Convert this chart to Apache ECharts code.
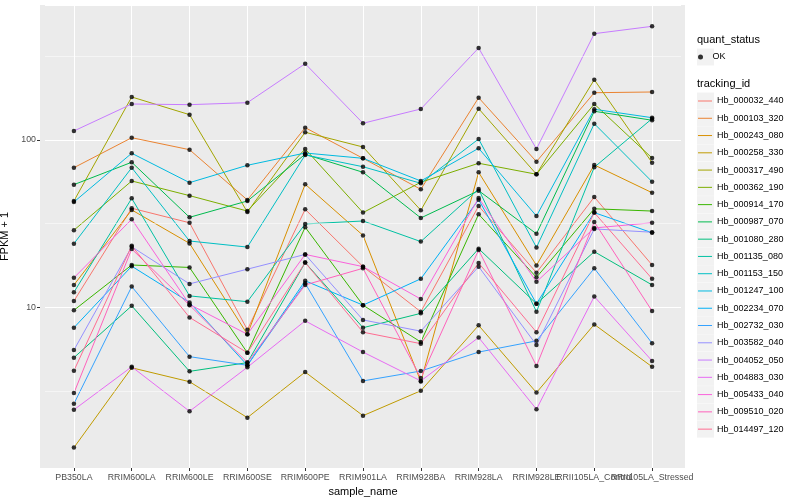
<!DOCTYPE html>
<html><head><meta charset="utf-8">
<script src="https://cdn.jsdelivr.net/npm/echarts@6/dist/echarts.min.js"></script>
<style>html,body{margin:0;padding:0;background:#fff}#c{width:800px;height:500px}</style>
</head><body><div id="c"></div>
<script>
const categories = ['PB350LA','RRIM600LA','RRIM600LE','RRIM600SE','RRIM600PE','RRIM901LA','RRIM928BA','RRIM928LA','RRIM928LE','RRII105LA_Control','RRII105LA_Stressed'];
const trackingIds = ['Hb_000032_440','Hb_000103_320','Hb_000243_080','Hb_000258_330','Hb_000317_490','Hb_000362_190','Hb_000914_170','Hb_000987_070','Hb_001080_280','Hb_001135_080','Hb_001153_150','Hb_001247_100','Hb_002234_070','Hb_002732_030','Hb_003582_040','Hb_004052_050','Hb_004883_030','Hb_005433_040','Hb_009510_020','Hb_014497_120'];
const colors = ['#F8766D','#EA8331','#D89000','#C09B00','#A3A500','#7CAE00','#39B600','#00BB4E','#00BF7D','#00C1A3','#00BFC4','#00BAE0','#00B0F6','#35A2FF','#9590FF','#C77CFF','#E76BF3','#FA62DB','#FF62BC','#FF6C91'];

const hb_000032_440 = [10.9, 39.1, 32.0, 7.35, 38.5, 17.5, 9.4, 40.3, 16.1, 45.6, 17.9];
const hb_000103_320 = [68.3, 103.2, 87.5, 43.8, 118.5, 77.7, 50.7, 179, 74.2, 191.7, 193.6];
const hb_000243_080 = [13.6, 38.2, 24.1, 6.9, 54.4, 26.9, 3.6, 64.1, 17.8, 70.9, 48.4];
const hb_000258_330 = [1.45, 4.35, 3.59, 2.19, 4.1, 2.25, 3.17, 7.8, 3.09, 7.9, 4.41];
const hb_000317_490 = [43.2, 180.7, 141.7, 37.1, 111.2, 90.8, 38.0, 153.9, 62.4, 229.3, 73.2];
const hb_000362_190 = [28.9, 56.9, 46.5, 37.6, 88.4, 36.8, 55.9, 72.6, 62.4, 164.1, 78.0];
const hb_000914_170 = [9.6, 17.9, 17.3, 5.35, 30.1, 10.3, 6.2, 36.0, 15.1, 38.8, 37.6];
const hb_000987_070 = [54.1, 73.6, 34.5, 43.2, 82.1, 64.1, 34.2, 49.8, 27.5, 148.5, 131.2];
const hb_001080_280 = [5.0, 10.2, 4.14, 4.67, 18.5, 7.55, 9.2, 22.4, 10.5, 21.5, 13.6];
const hb_001135_080 = [12.3, 44.8, 11.7, 10.8, 31.5, 32.8, 24.7, 50.9, 9.4, 68.7, 134.1];
const hb_001153_150 = [24.0, 68.3, 24.9, 22.9, 81.4, 69.2, 55.1, 101.4, 22.8, 125.2, 56.3];
const hb_001247_100 = [42.6, 83.3, 55.6, 70.6, 83.6, 77.7, 56.9, 89.2, 35.1, 152.6, 135.9];
const hb_002234_070 = [7.55, 17.6, 10.7, 4.5, 14.4, 10.3, 14.8, 44.0, 10.5, 36.8, 27.9];
const hb_002732_030 = [2.65, 13.3, 5.07, 4.5, 13.9, 3.63, 4.16, 5.4, 6.3, 17.1, 6.1];
const hb_003582_040 = [5.55, 23.0, 13.8, 16.9, 20.7, 8.4, 7.2, 17.5, 5.95, 29.4, 28.1];
const hb_004052_050 = [113.2, 164.1, 162.6, 167.1, 285.8, 125.9, 153.2, 354.8, 88.4, 432, 478];
const hb_004883_030 = [2.44, 4.41, 2.39, 4.38, 8.3, 5.4, 3.63, 6.6, 2.46, 11.6, 4.78];
const hb_005433_040 = [15.0, 33.6, 10.4, 6.9, 20.7, 17.5, 11.2, 45.0, 14.2, 29.8, 32.0];
const hb_009510_020 = [3.07, 22.3, 10.3, 4.67, 13.6, 17.1, 3.78, 22.0, 4.46, 32.4, 9.5];
const hb_014497_120 = [4.18, 23.3, 8.7, 5.35, 18.5, 7.1, 6.06, 18.4, 7.1, 36.8, 14.8];

const seriesValues = [hb_000032_440, hb_000103_320, hb_000243_080, hb_000258_330, hb_000317_490, hb_000362_190, hb_000914_170, hb_000987_070, hb_001080_280, hb_001135_080, hb_001153_150, hb_001247_100, hb_002234_070, hb_002732_030, hb_003582_040, hb_004052_050, hb_004883_030, hb_005433_040, hb_009510_020, hb_014497_120];
const minorBreaks = [3.1623, 31.623, 316.23];
const statusNames = ['OK'];

const FONT = '"Liberation Sans", Arial, Helvetica, sans-serif';
const chart = echarts.init(document.getElementById('c'));

const lineSeries = trackingIds.map((id, k) => ({
  name: id, type: 'line', data: seriesValues[k], symbol: 'none', showSymbol: false,
  color: colors[k], lineStyle: { width: 1, color: colors[k] }, z: 2, silent: true, animation: false
}));
const pts = [];
seriesValues.forEach(arr => arr.forEach((v, i) => pts.push([i, v])));

const ROW = 17.27, FIRST = 101, OKY = 57;
const graphics = [
  { type: 'rect', z: -100, silent: true, shape: { x: 40, y: 5, width: 645, height: 463 }, style: { fill: '#EBEBEB' } },
  { type: 'text', left: 697, top: 34, style: { text: 'quant_status', font: '11px ' + FONT, fill: '#000' } },
  { type: 'text', left: 697, top: 78, style: { text: 'tracking_id', font: '11px ' + FONT, fill: '#000' } },
  { type: 'rect', silent: true, shape: { x: 697, y: OKY - 8.5, width: 17, height: 17 }, style: { fill: '#F2F2F2' } }
];
for (let k = 0; k < trackingIds.length; k++) {
  graphics.push({ type: 'rect', silent: true, shape: { x: 697, y: FIRST + k * ROW - 8.5, width: 17, height: 17 }, style: { fill: '#F2F2F2' } });
}

chart.setOption({
  animation: false,
  backgroundColor: '#fff',
  textStyle: { fontFamily: FONT },
  grid: { left: 45, right: 119, top: 5, bottom: 32, show: false, containLabel: false, outerBoundsMode: 'none' },
  xAxis: {
    type: 'category', data: categories, boundaryGap: true,
    name: 'sample_name', nameLocation: 'middle', nameGap: 15,
    nameTextStyle: { fontSize: 11, color: '#000', fontFamily: FONT },
    axisLine: { show: false },
    axisTick: { show: true, alignWithLabel: true, interval: 0, length: 3, lineStyle: { color: '#333', width: 1 } },
    axisLabel: { interval: 0, fontSize: 8.8, color: '#4D4D4D', margin: 5, fontFamily: FONT },
    splitLine: { show: false }
  },
  yAxis: {
    type: 'log', logBase: 10, min: 1.095, max: 641, offset: 5,
    name: 'FPKM + 1', nameLocation: 'middle', nameGap: 23, nameRotate: 90,
    nameTextStyle: { fontSize: 11, color: '#000', fontFamily: FONT },
    axisLine: { show: false },
    axisTick: { show: true, length: 3, lineStyle: { color: '#333', width: 1 } },
    axisLabel: { fontSize: 8.8, color: '#4D4D4D', margin: 4, showMinLabel: false, showMaxLabel: false, fontFamily: FONT,
      formatter: v => String(Math.round(v)) },
    splitLine: { show: true, lineStyle: { color: '#fff', width: 1 } }
  },
  legend: [
    {
      data: trackingIds, orient: 'vertical', left: 698, top: FIRST - ROW / 2, padding: 0,
      itemWidth: 14, itemHeight: 14, itemGap: 0,
      icon: 'path://M0,7 L14,7 L14,8 L0,8 Z',
      textStyle: { fontSize: 9, color: '#000', fontFamily: FONT, lineHeight: ROW }, selectedMode: false
    },
    {
      data: statusNames, orient: 'vertical', left: 698, top: OKY - ROW / 2, padding: 0,
      itemWidth: 14, itemHeight: 5, icon: 'circle',
      textStyle: { fontSize: 9, color: '#000', fontFamily: FONT, lineHeight: ROW }, selectedMode: false
    }
  ],
  graphic: { elements: graphics },
  series: [
    {
      name: 'grid-lines', type: 'line', data: [], z: 1, silent: true,
      markLine: { silent: true, symbol: ['none', 'none'], label: { show: false }, animation: false,
        lineStyle: { color: '#fff', width: 0.5, type: 'solid' },
        data: minorBreaks.map(b => ({ yAxis: b })) }
    },
    {
      name: 'x-grid', type: 'line', data: [], z: 1, silent: true,
      markLine: { silent: true, symbol: ['none', 'none'], label: { show: false }, animation: false,
        lineStyle: { color: '#fff', width: 1, type: 'solid' },
        data: categories.map(c => ({ xAxis: c })) }
    },
    ...lineSeries,
    { name: 'OK', type: 'scatter', data: pts, symbol: 'circle', symbolSize: 4.5, itemStyle: { color: '#000' }, z: 5, silent: true, animation: false }
  ]
});
</script></body></html>
